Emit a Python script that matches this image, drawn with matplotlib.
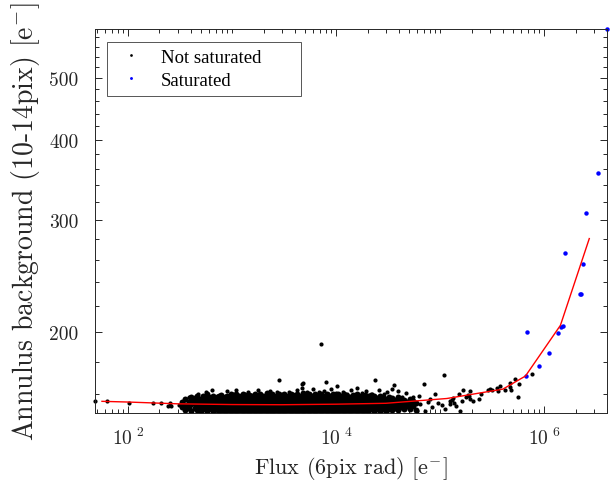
import numpy as np
import matplotlib
matplotlib.use('Agg')
import matplotlib.pyplot as plt
from matplotlib.ticker import FixedLocator, MultipleLocator, NullFormatter

plt.rcParams['mathtext.fontset'] = 'cm'
plt.rcParams['font.family'] = ['cmr10', 'DejaVu Serif']
plt.rcParams['axes.unicode_minus'] = False

# dense part of the unsaturated cloud, one column of background values per flux
core_flux = [330, 352, 381, 398, 436, 455, 497, 522, 568, 594, 647, 681, 739, 776, 846, 889,
             965, 1010, 1100, 1160, 1260, 1320, 1440, 1510, 1640, 1730, 1870, 1980, 2140, 2250,
             2440, 2570, 2790, 2940, 3180, 3360, 3640, 3830, 4160, 4380, 4750, 5000, 5420, 5710,
             6190, 6520, 7070, 7450, 8080, 8500, 9220, 9710, 10500, 11100, 12000, 12700, 13700,
             14500, 15700, 16500, 17900, 18900, 20400, 21600, 23300, 24700, 26600, 28200, 30400,
             32200, 34700, 36800, 39600, 42000, 45300, 47900, 51700, 54700, 58900]
core_vals = [
    [152.9, 155.6], [151.4, 154.0, 157.5], [153.2, 155.9, 152.1], [150.9, 154.6, 157.0, 158.6],
    [152.4, 155.2, 157.9], [151.2, 153.7, 156.4, 159.1], [150.7, 152.9, 155.0, 157.3],
    [151.8, 154.3, 156.7, 158.8], [150.5, 153.0, 155.4, 157.8, 160.1], [151.6, 154.0, 156.2, 158.4],
    [150.8, 152.7, 154.9, 157.1, 159.3], [151.9, 153.8, 156.0, 158.1],
    [150.6, 152.5, 154.6, 156.8, 159.0], [151.4, 153.4, 155.5, 157.6, 159.7],
    [150.4, 152.3, 154.2, 156.3, 158.4], [151.2, 153.1, 155.1, 157.2, 159.2],
    [150.6, 152.6, 154.5, 156.6, 158.7, 160.3], [151.5, 153.5, 155.6, 157.7, 159.5],
    [150.4, 152.2, 154.1, 156.0, 158.0, 159.9], [151.1, 153.0, 155.0, 157.0, 159.0],
    [150.5, 152.4, 154.4, 156.4, 158.3, 160.2], [151.3, 153.3, 155.3, 157.4, 159.4],
    [150.3, 152.1, 154.0, 155.9, 157.9, 159.8], [151.0, 152.9, 154.8, 156.8, 158.8],
    [150.6, 152.5, 154.5, 156.5, 158.5, 160.4], [151.4, 153.4, 155.4, 157.3, 159.3],
    [150.4, 152.3, 154.2, 156.2, 158.1, 160.0], [151.2, 153.1, 155.1, 157.1, 159.1],
    [150.7, 152.6, 154.6, 156.6, 158.6, 160.5], [151.5, 153.5, 155.5, 157.5, 159.5],
    [150.3, 152.2, 154.1, 156.1, 158.2, 160.1], [151.1, 153.0, 155.0, 156.9, 158.9],
    [150.6, 152.5, 154.4, 156.4, 158.4, 160.3], [151.3, 153.3, 155.2, 157.2, 159.2],
    [150.4, 152.4, 154.3, 156.3, 158.3, 160.2], [151.2, 153.1, 155.0, 157.0, 159.0],
    [150.5, 152.4, 154.4, 156.4, 158.5, 160.4], [151.4, 153.4, 155.4, 157.4, 159.4],
    [150.3, 152.2, 154.1, 156.1, 158.1, 160.0], [151.0, 152.9, 154.9, 156.8, 158.8],
    [150.6, 152.6, 154.6, 156.6, 158.6, 160.6], [151.4, 153.3, 155.3, 157.3, 159.3],
    [150.4, 152.3, 154.2, 156.2, 158.2, 160.1], [151.2, 153.2, 155.2, 157.1, 159.1],
    [150.5, 152.5, 154.5, 156.5, 158.5, 160.3], [151.3, 153.2, 155.1, 157.0, 159.0],
    [150.4, 152.4, 154.3, 156.3, 158.4, 160.2], [151.1, 153.0, 155.0, 157.0, 158.9],
    [150.6, 152.5, 154.5, 156.5, 158.6, 160.4], [151.4, 153.4, 155.3, 157.3, 159.3],
    [150.3, 152.2, 154.2, 156.2, 158.2, 160.1], [151.0, 153.0, 155.0, 156.9, 158.9],
    [150.5, 152.5, 154.4, 156.4, 158.4, 160.2], [151.3, 153.3, 155.3, 157.3, 159.2],
    [150.4, 152.3, 154.3, 156.4, 158.4, 160.3], [151.2, 153.2, 155.2, 157.2, 159.2],
    [150.6, 152.6, 154.6, 156.6, 158.6], [151.4, 153.4, 155.4, 157.4, 159.4],
    [150.5, 152.4, 154.4, 156.4, 158.4, 160.2], [151.1, 153.1, 155.1, 157.1, 159.1],
    [150.4, 152.4, 154.4, 156.5, 158.6], [151.3, 153.3, 155.4, 157.5, 159.5],
    [150.7, 152.7, 154.7, 156.8, 158.8], [151.5, 153.5, 155.5, 157.6, 159.6],
    [150.5, 152.6, 154.7, 156.8, 158.9], [151.6, 153.6, 155.7, 157.8],
    [150.6, 152.8, 154.9, 157.0, 159.1], [151.7, 153.8, 156.0, 158.2],
    [150.8, 153.0, 155.2, 157.4], [152.0, 154.2, 156.5, 158.6], [151.0, 153.4, 155.6, 157.9],
    [152.4, 154.8, 157.0], [151.3, 153.7, 156.2, 158.3], [152.7, 155.2, 157.5],
    [151.5, 154.0, 156.6], [153.2, 155.7], [152.0, 154.6, 157.2], [153.6, 156.1], [151.0, 155.0],
]

# sparse unsaturated sources
sparse_flux = [48, 63, 102, 175, 208, 250, 240, 259, 311, 361, 388, 464, 645, 711, 1240, 1430,
               1490, 1600, 1790, 1830, 2000, 2500, 2830, 3100, 3550, 3900, 4710, 4800, 4650, 5600,
               6300, 6900, 7130, 8020, 8400, 10200, 10000, 12700, 17700, 22000, 23700, 28500,
               34500, 36100, 42500, 55000, 62000, 69200, 79000, 89000, 108000, 134000, 150000,
               560, 900, 1100, 2300, 2700, 4200, 5200, 6000, 7600, 9000, 11500, 14000, 16000,
               19500, 26000, 31000, 39000, 47000,
               60000, 64000, 72000, 76000, 84000, 96000, 104000, 111000, 124000, 143000, 156000,
               123000, 129000, 137000, 162000, 167000, 177000, 186000, 190000, 193000, 193000,
               208000, 237000, 248000, 287000, 298000, 318000, 350000, 360000, 378000, 420000,
               464000, 470000, 482000, 526000, 554000, 575000, 755000]
sparse_vals = [156.3, 156.0, 155.2, 155.1, 154.9, 155.1, 153.3, 153.3, 153.7, 157.2, 158.5, 160.4,
               162.6, 159.1, 159.4, 161.2, 159.4, 159.4, 162.6, 160.0, 159.1, 159.1, 168.3, 160.0,
               161.2, 159.1, 165.9, 166.5, 163.4, 160.0, 159.4, 161.2, 191.5, 167.3, 160.0, 164.7,
               160.5, 160.0, 160.9, 160.4, 168.7, 160.0, 163.0, 165.3, 158.5, 158.2, 158.8, 165.9,
               157.2, 160.0, 171.3, 157.7, 160.0,
               161.5, 161.8, 162.3, 162.0, 161.6, 162.4, 161.3, 163.1, 161.9, 162.8, 161.6, 162.4,
               163.5, 161.8, 162.6, 161.4, 162.0, 160.8,
               150.7, 154.4, 150.7, 155.5, 152.7, 155.0, 153.9, 151.6, 156.0, 153.3, 150.5,
               154.4, 156.8, 155.3, 156.3, 162.4, 158.2, 159.6, 159.1, 157.2, 162.2,
               156.3, 157.2, 160.4, 162.4, 163.0, 162.6, 163.9, 161.9, 164.7, 162.4,
               166.9, 164.4, 162.6, 168.9, 158.3, 165.9, 172.4]

# saturated sources
sat_flux = [6.67e5, 6.9e5, 8.81e5, 1.11e6, 1.37e6, 1.45e6, 1.53e6, 1.60e6, 2.20e6, 2.25e6,
            2.36e6, 2.53e6, 3.28e6, 4.0e6]
sat_vals = [170.6, 200.0, 177.2, 185.6, 199.5, 204.2, 204.6, 266.4, 229.6, 230.0,
            256.3, 307.0, 355.6, 597.0]

# binned median
med_flux = [56, 100, 300, 1000, 3000, 1e4, 3e4, 1.16e5, 4.0e5, 6.6e5, 1.43e6, 2.71e6]
med_vals = [156.0, 155.6, 154.6, 154.2, 154.1, 154.4, 154.9, 157.6, 163.0, 170.9, 205.1, 280.4]

x_major = [1e2, 1e4, 1e6]
x_major_labels = [r'$10^{\ 2}$', r'$10^{\ 4}$', r'$10^{\ 6}$']
y_major = [200, 300, 400, 500]

cx = [f for f, col in zip(core_flux, core_vals) for _ in col]
cy = [v for col in core_vals for v in col]

txt = '#262626'
fig = plt.figure(figsize=(6.13, 4.81), dpi=100)
ax = fig.add_axes([0.155, 0.139, 0.835, 0.799])

# the core is so crowded that the individual dots merge into one band
ax.plot(cx, cy, ls='none', marker='o', ms=4.3, mew=0, color='k')
ax.plot(sparse_flux, sparse_vals, ls='none', marker='o', ms=3.0, mew=0, color='k',
        label='Not saturated', clip_on=False)
ax.plot(sat_flux, sat_vals, ls='none', marker='o', ms=3.2, mew=0, color='b',
        label='Saturated', clip_on=False)
ax.plot(med_flux, med_vals, color='r', lw=1.0)

ax.set_xscale('log')
ax.set_yscale('log')
ax.set_xlim(48, 4.0e6)
ax.set_ylim(149.5, 597)

ax.xaxis.set_major_locator(FixedLocator(x_major))
ax.xaxis.set_minor_locator(FixedLocator([k * 10.0 ** d for d in range(1, 7) for k in range(1, 10)]))
ax.set_xticklabels(x_major_labels)
ax.xaxis.set_minor_formatter(NullFormatter())
ax.yaxis.set_major_locator(FixedLocator(y_major))
ax.yaxis.set_minor_locator(MultipleLocator(20))
ax.set_yticklabels([str(v) for v in y_major])
ax.yaxis.set_minor_formatter(NullFormatter())

ax.tick_params(which='both', direction='in', top=True, right=True, colors=txt,
               labelsize=14, width=0.7)
ax.tick_params(which='major', length=5)
ax.tick_params(which='minor', length=3)
ax.tick_params(axis='x', pad=10)
ax.tick_params(axis='y', pad=12)
for s in ax.spines.values():
    s.set_color(txt)
    s.set_linewidth(0.7)

ax.set_xlabel(r'Flux (6pix rad) [e$^{-}$]', fontsize=16, color=txt, labelpad=4)
ax.set_ylabel(r'Annulus background (10-14pix) [e$^{-}$]', fontsize=20, color=txt, labelpad=5)

leg = ax.legend(loc='upper left', bbox_to_anchor=(0.023, 0.0, 0.379, 0.967), mode='expand',
                borderaxespad=0, fancybox=False, framealpha=1, edgecolor='#555555', numpoints=1,
                prop={'family': 'Liberation Serif', 'size': 13.5}, markerscale=0.65,
                handlelength=1.8, handletextpad=0.7, labelspacing=0.32, borderpad=0.38)
leg.get_frame().set_linewidth(0.7)

fig.savefig('out.png', dpi=100)
